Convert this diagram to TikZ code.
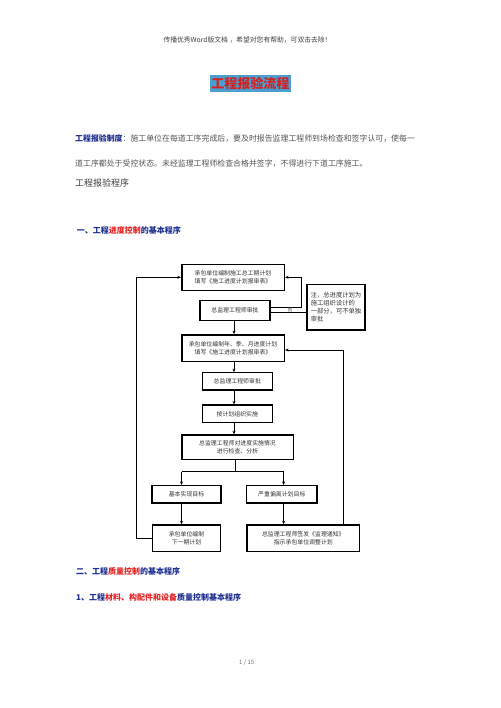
\documentclass[tikz,border=0pt]{standalone}
\usepackage{fontspec}
\setmainfont{Noto Sans CJK SC}
\usetikzlibrary{arrows.meta}
\definecolor{titlebg}{HTML}{4A9FD0}
\definecolor{titlered}{HTML}{D42020}
\definecolor{secblue}{HTML}{1F2F8F}
\definecolor{secred}{HTML}{E42222}
\definecolor{bodygray}{HTML}{555555}
\definecolor{boxtxt}{HTML}{333333}
\begin{document}
\begin{tikzpicture}[x=1pt,y=-1pt,
  box/.style={draw=black, line width=1.6pt, inner sep=0pt, align=center,
    font=\fontsize{5.9}{8}\selectfont, text=boxtxt},
  thinbox/.style={box, line width=1.1pt},
  conn/.style={draw=black, line width=0.8pt},
  arr/.style={conn, -{Stealth[length=3.5pt,width=3pt]}},
  para/.style={anchor=west, inner sep=0pt, text=bodygray, font=\fontsize{7.9}{9}\selectfont},
  sect/.style={anchor=west, inner sep=0pt, text=secblue, font=\fontsize{8}{9}\selectfont\bfseries}]
\useasboundingbox[fill=white] (0,0) rectangle (500,708);

% header
\node[inner sep=0pt, text=black!75, font=\fontsize{6.8}{8}\selectfont] (hdr) at (247.5,40) {传播优秀Word版文档 ，希望对您有帮助，可双击去除！};
\node[fill=titlebg, text=titlered, inner sep=0pt, minimum width=80.7pt, minimum height=16.7pt,
  font=\fontsize{13}{15}\selectfont\bfseries] (title) at (250.3,83.4) {工程报验流程};

% paragraph
\node[para] (p1) at (75,138.3) {\textcolor{secblue}{\bfseries 工程报验制度}：施工单位在每道工序完成后，要及时报告监理工程师到场检查和签字认可，使每一};
\node[para] (p2) at (75,163.3) {道工序都处于受控状态。未经监理工程师检查合格并签字，不得进行下道工序施工。};
\node[para, font=\fontsize{9}{10}\selectfont, text=black!75] (p3) at (75,183.3) {工程报验程序};

\node[sect] (s1) at (76.7,230) {一、工程\textcolor{secred}{进度控制}的基本程序};
\node[sect] (s2) at (76,571) {二、工程\textcolor{secred}{质量控制}的基本程序};
\node[sect] (s3) at (76,597.7) {1、工程\textcolor{secred}{材料、构配件和设备}质量控制基本程序};

\node[inner sep=0pt, text=black!55, font=\fontsize{6}{7}\selectfont] (pg) at (246.7,662.7) {1 / 15};

% flow chart boxes
\node[box, minimum width=102.6pt, minimum height=26pt] (b1) at (233,277.3) {承包单位编制施工总工期计划\\填写《施工进度计划报审表》};
\node[box, minimum width=70pt, minimum height=20pt] (b2) at (235,310.5) {总监理工程师审批};
\node[box, minimum width=58.5pt, minimum height=45.7pt, align=left,
  font=\fontsize{6.3}{7.8}\selectfont] (note) at (336,307.2) {注，总进度计划为\\施工组织设计的\\一部分，可不单独\\审批};
\node[box, minimum width=102.6pt, minimum height=26.7pt] (b3) at (233,348.3) {承包单位编制年、季、月进度计划\\填写《施工进度计划报审表》};
\node[thinbox, minimum width=70pt, minimum height=17.3pt] (b4) at (237.3,381.3) {总监理工程师审批};
\node[thinbox, minimum width=70pt, minimum height=17.7pt] (b5) at (237.3,413.8) {按计划组织实施};
\node[box, minimum width=111.6pt, minimum height=24.3pt] (b6) at (237.5,447.2) {总监理工程师对进度实施情况\\进行检查、分析};
\node[thinbox, minimum width=69pt, minimum height=17.5pt] (b7) at (186.5,494.2) {基本实现目标};
\node[thinbox, minimum width=70.3pt, minimum height=17.5pt] (b8) at (281.8,494.2) {严重偏离计划目标};
\node[box, minimum width=68pt, minimum height=26.5pt] (b9) at (186.5,538.3) {承包单位编制\\下一期计划};
\node[box, minimum width=112.6pt, minimum height=26.5pt] (b10) at (303.3,538.3) {总监理工程师签发《监理通知》\\指示承包单位调整计划};

% connectors
\coordinate (cx) at (234,0);
\coordinate (sp) at (235.3,471.7);
\coordinate (sl) at (181.5,471.7);
\coordinate (sr) at (283.6,471.7);
\coordinate (rx) at (343.3,350);
\coordinate (lx) at (136.7,0);
\coordinate (qx) at (301.7,307.3);
\coordinate (ny) at (0,311.9);

\draw[arr] (b2.south -| cx) -- (b3.north -| cx);
\draw[arr] (b3.south -| cx) -- (b4.north -| cx);
\draw[arr] (b4.south -| cx) -- (b5.north -| cx);
\draw[arr] (b5.south -| cx) -- (b6.north -| cx);
\draw[conn] (b6.south -| sp) -- (sp);
\draw[conn] (sl) -- (sr);
\draw[arr] (sl) -- (b7.north -| sl);
\draw[arr] (sr) -- (b8.north -| sr);
\draw[arr] (b7.south -| sl) -- (b9.north -| sl);
\draw[arr] (b8.south -| sr) -- (b10.north -| sr);
\draw[arr] (b10.north -| rx) -- (rx) -- (b3.east |- rx);
\draw[arr] (b9.west) -- (b9.west -| lx) -- (lx |- b1.west) -- (b1.west);
\draw[arr] (b2.east |- qx) -- (qx) -- (qx |- b1.east) -- (b1.east);
\draw[conn] (b2.east |- ny) -- (note.west |- ny);
\node[inner sep=0pt, text=boxtxt, font=\fontsize{4.8}{6}\selectfont] (no) at (290,309.6) {否};
\end{tikzpicture}
\end{document}
